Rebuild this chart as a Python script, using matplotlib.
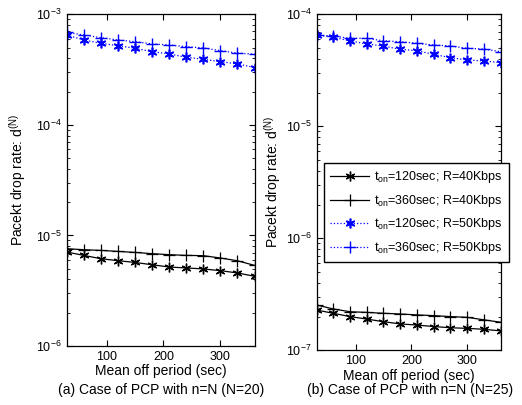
import numpy as np
import matplotlib.pyplot as plt
from matplotlib.ticker import LogLocator, NullFormatter

plt.rcParams['font.family'] = ['Liberation Sans', 'DejaVu Sans']
plt.rcParams['mathtext.fontset'] = 'custom'
plt.rcParams['mathtext.rm'] = 'Liberation Sans'
plt.rcParams['mathtext.it'] = 'Liberation Sans'

# mean off period (sec)
off_period = [30, 60, 90, 120, 150, 180, 210, 240, 270, 300, 330, 360]

# (a) N=20
a_120_40 = [7.08e-6, 6.6e-6, 6.16e-6, 5.91e-6, 5.7e-6, 5.43e-6, 5.18e-6, 5.08e-6, 4.98e-6, 4.8e-6, 4.58e-6, 4.27e-6]
a_360_40 = [7.58e-6, 7.43e-6, 7.32e-6, 7.17e-6, 7.02e-6, 6.84e-6, 6.7e-6, 6.6e-6, 6.56e-6, 6.25e-6, 5.9e-6, 5.36e-6]
a_120_50 = [6.5e-4, 5.86e-4, 5.47e-4, 5.2e-4, 4.93e-4, 4.59e-4, 4.38e-4, 4.09e-4, 3.92e-4, 3.73e-4, 3.56e-4, 3.3e-4]
a_360_50 = [6.87e-4, 6.5e-4, 6.15e-4, 5.86e-4, 5.66e-4, 5.4e-4, 5.28e-4, 5.09e-4, 4.97e-4, 4.69e-4, 4.45e-4, 4.36e-4]

# (b) N=25
b_120_40 = [2.29e-7, 2.14e-7, 2.0e-7, 1.9e-7, 1.8e-7, 1.72e-7, 1.68e-7, 1.63e-7, 1.59e-7, 1.57e-7, 1.54e-7, 1.49e-7]
b_360_40 = [2.54e-7, 2.34e-7, 2.21e-7, 2.18e-7, 2.14e-7, 2.11e-7, 2.07e-7, 2.04e-7, 2.0e-7, 1.97e-7, 1.87e-7, 1.78e-7]
b_120_50 = [6.53e-5, 6.23e-5, 5.8e-5, 5.43e-5, 5.21e-5, 4.87e-5, 4.73e-5, 4.39e-5, 4.1e-5, 3.91e-5, 3.83e-5, 3.7e-5]
b_360_50 = [6.53e-5, 6.4e-5, 6.1e-5, 6.1e-5, 5.8e-5, 5.69e-5, 5.51e-5, 5.32e-5, 5.21e-5, 4.97e-5, 4.9e-5, 4.63e-5]

labels = ['$t_{on}$=120sec; R=40Kbps', '$t_{on}$=360sec; R=40Kbps',
          '$t_{on}$=120sec; R=50Kbps', '$t_{on}$=360sec; R=50Kbps']

W, H = 522, 405
fig = plt.figure(figsize=(W / 100, H / 100), dpi=100)

star = (6, 2, 0)


def panel(rect, s1, s2, s3, s4, ylim, caption, xc, ypad):
    ax = fig.add_axes(rect)
    ax.plot(off_period, s1, color='k', lw=0.9, marker=star, ms=7, mew=1.0, label=labels[0])
    ax.plot(off_period, s2, color='k', lw=0.9, marker='+', ms=8, mew=0.9, label=labels[1])
    ax.plot(off_period, s3, color='b', lw=0.9, ls=':', marker=star, ms=7, mew=1.2, label=labels[2])
    ax.plot(off_period, s4, color='b', lw=0.9, ls=':', marker='+', ms=8, mew=1.0, label=labels[3])
    ax.set_yscale('log')
    ax.set_xlim(30, 360)
    ax.set_ylim(*ylim)
    ax.set_xticks([100, 200, 300])
    ax.yaxis.set_minor_locator(LogLocator(base=10, subs=np.arange(2, 10)))
    ax.yaxis.set_minor_formatter(NullFormatter())
    ax.tick_params(which='both', direction='in', top=True, right=True, labelsize=9)
    ax.tick_params(which='major', length=4)
    ax.tick_params(which='minor', length=2)
    for sp in ax.spines.values():
        sp.set_linewidth(0.9)
    ax.set_xlabel('Mean off period (sec)', fontsize=10, labelpad=1)
    ax.set_ylabel('Pacekt drop rate: d$^{(N)}$', fontsize=10, labelpad=ypad)
    fig.text(xc / W, 1 - 390 / H, caption, ha='center', va='center', fontsize=10)
    return ax


ax1 = panel([66.7 / W, 1 - 346 / H, 187.8 / W, 331.7 / H],
            a_120_40, a_360_40, a_120_50, a_360_50, (1e-6, 1e-3),
            '(a) Case of PCP with n=N (N=20)', 161, 6)
ax2 = panel([316.5 / W, 1 - 350.3 / H, 184.2 / W, 336 / H],
            b_120_40, b_360_40, b_120_50, b_360_50, (1e-7, 1e-4),
            '(b) Case of PCP with n=N (N=25)', 410, 2)

leg = ax2.legend(loc='upper left', bbox_to_anchor=(0.041, 0.557), borderaxespad=0,
                 fontsize=9, handlelength=3.1, labelspacing=0.6, fancybox=False,
                 framealpha=1, edgecolor='k', borderpad=0.5, handletextpad=0.4)
leg.get_frame().set_linewidth(1.0)

fig.savefig('out.png', dpi=100)
